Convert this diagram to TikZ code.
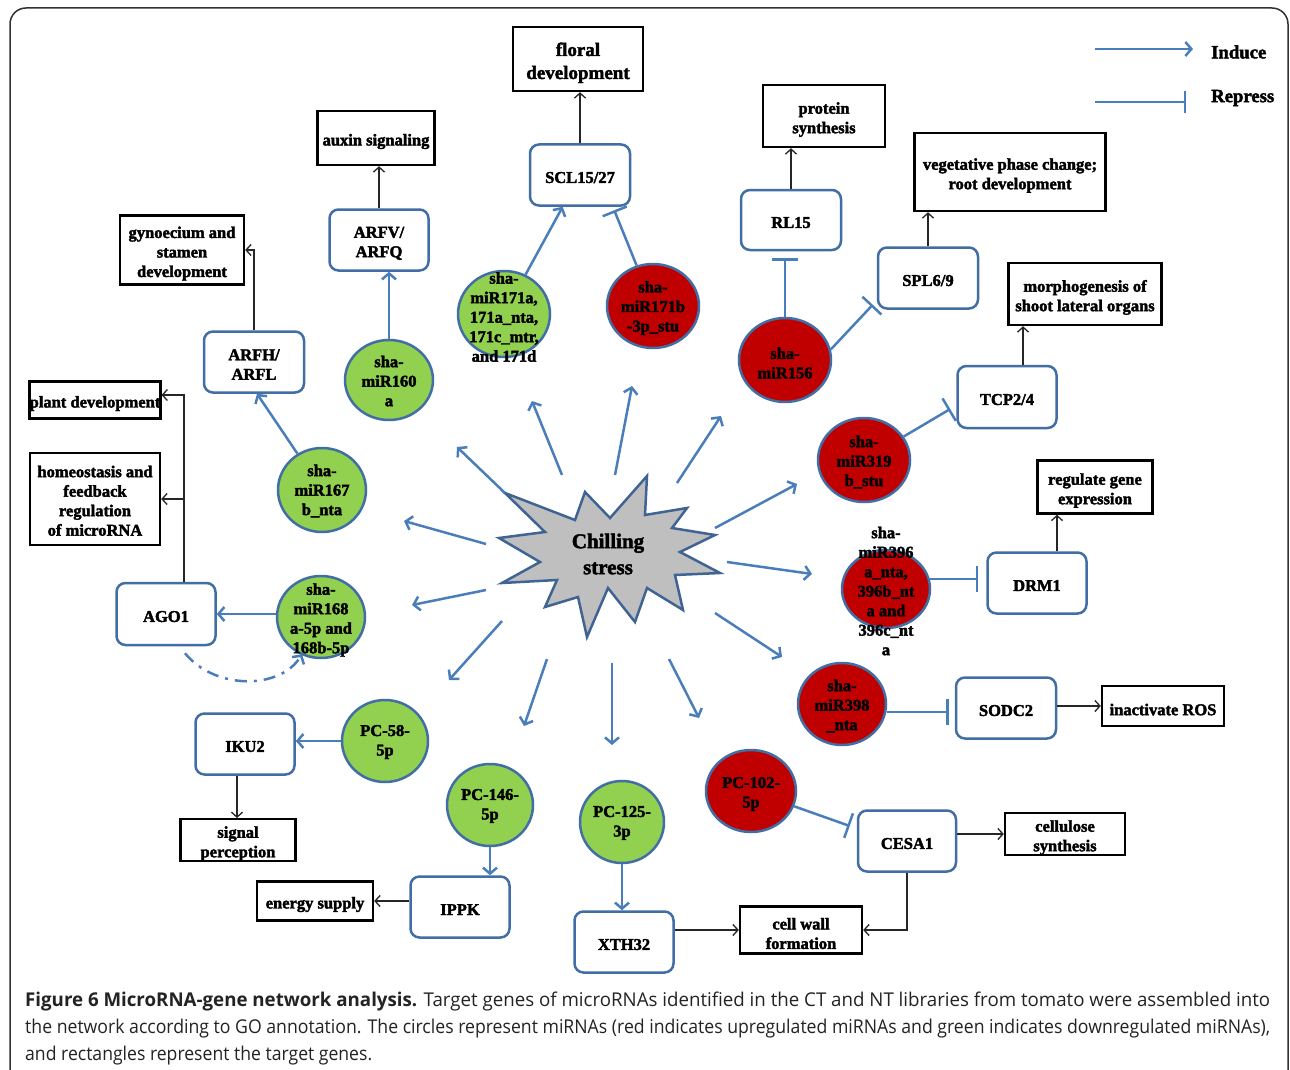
\documentclass[tikz,border=0pt]{standalone}
\usepackage{fontspec}
\usepackage{graphicx}
\setmainfont{Liberation Serif}[BoldFeatures={FakeBold=2.2}]
\newfontfamily\capfont{Open Sans}
\usetikzlibrary{arrows.meta,shapes.geometric,calc}
\definecolor{lnblue}{RGB}{74,126,187}
\definecolor{bdblue}{RGB}{65,110,165}
\definecolor{mgreen}{RGB}{146,208,80}
\definecolor{mred}{RGB}{192,0,0}
\definecolor{stargray}{RGB}{191,191,191}
\definecolor{starbd}{RGB}{63,100,148}
\definecolor{capgray}{RGB}{35,35,35}
\definecolor{framegray}{RGB}{50,50,50}
\newcommand\bx{\fontsize{16.5}{19.5}\selectfont\bfseries}
\newcommand\tp{\rule{0pt}{18.5pt}}
\newcommand\tg{\rule{0pt}{16pt}}
\begin{document}
\begin{tikzpicture}[x=1pt,y=-1pt,
  proc/.style={draw=black, line width=2.4pt, fill=white, inner sep=0pt, align=center, font=\bx},
  gene/.style={draw=bdblue, line width=2.5pt, rounded corners=9pt, fill=white, minimum width=99pt, minimum height=61pt, inner sep=0pt, align=center, font=\bx},
  mir/.style={ellipse, draw=bdblue, line width=2.5pt, inner sep=0pt},
  mtxt/.style={inner sep=0pt, align=center, font=\bx},
  ind/.style={draw=lnblue, line width=2.5pt, -{Straight Barb[length=6pt,width=14pt]}},
  rep/.style={draw=lnblue, line width=2.5pt, -{Bar[width=26pt]}},
  blk/.style={draw=black!85, line width=1.3pt, -{Straight Barb[length=5pt,width=11pt]}},
  lgtxt/.style={inner sep=0pt, font=\fontsize{18.7}{22}\selectfont\bfseries}
]
\useasboundingbox (0,0) rectangle (1290,1070);
\fill[white] (0,0) rectangle (1290,1070);
% frame
\draw[framegray, line width=1.5pt, rounded corners=16pt] (10,1110) -- (10,8) -- (1288,8) -- (1288,1110);

% legend
\coordinate (lgi1) at (1095,49); \coordinate (lgi2) at (1193,49);
\draw[ind] (lgi1) -- (lgi2);
\node[lgtxt, anchor=west] (lgind) at (1211,52) {Induce};
\coordinate (lgr1) at (1095,102); \coordinate (lgr2) at (1186,102);
\draw[rep, -{Bar[width=22pt]}] (lgr1) -- (lgr2);
\node[lgtxt, anchor=west] (lgrep) at (1211,98) {Repress};

% process boxes
\node[proc, minimum width=130pt, minimum height=64pt, font=\fontsize{19}{23}\selectfont\bfseries] (fl) at (578,59) {\rule{0pt}{21pt}floral\\development};
\node[proc, minimum width=117pt, minimum height=54pt] (aux) at (376,138) {\tp auxin signaling};
\node[proc, minimum width=124pt, minimum height=69pt] (gyn) at (182,250) {\tp gynoecium and\\stamen\\development};
\node[proc, minimum width=122pt, minimum height=62pt] (prot) at (824,116) {\tp protein\\synthesis};
\node[proc, minimum width=191pt, minimum height=78pt] (veg) at (1010,172) {\tp vegetative phase change;\\root development};
\node[proc, minimum width=153pt, minimum height=62pt] (morph) at (1085,294) {\tp morphogenesis of\\shoot lateral organs};
\node[proc, minimum width=130pt, minimum height=37pt] (plant) at (95,400) {\tp plant development};
\node[proc, minimum width=130pt, minimum height=92pt] (homeo) at (95,499) {\rule{0pt}{15pt}homeostasis and\\feedback\\regulation\\of microRNA};
\node[proc, minimum width=115pt, minimum height=53pt] (reg) at (1095,487) {\tp regulate gene\\expression};
\node[proc, minimum width=122pt, minimum height=40pt] (ros) at (1163,706) {\tp inactivate ROS};
\node[proc, minimum width=115pt, minimum height=37pt] (sig) at (238,840) {\tp signal\\perception};
\node[proc, minimum width=116pt, minimum height=39pt] (energy) at (315,901) {\tp energy supply};
\node[proc, minimum width=120pt, minimum height=40pt] (cell) at (1065,834) {\tp cellulose\\synthesis};
\node[proc, minimum width=122pt, minimum height=47pt] (wall) at (801,930) {\tp cell wall\\formation};

% gene boxes
\node[gene, minimum width=100pt] (scl) at (580,175) {\tg SCL15/27};
\node[gene] (arfv) at (379,240) {\rule{0pt}{17.5pt}ARFV/\\ARFQ};
\node[gene, minimum width=100pt] (arfh) at (254,362) {\tg ARFH/\\ARFL};
\node[gene, minimum width=100pt, minimum height=60pt] (rl) at (791,220) {\tg RL15};
\node[gene, minimum width=100pt] (spl) at (928,278) {\tg SPL6/9};
\node[gene, minimum height=62pt] (tcp) at (1007,397) {\tg TCP2/4};
\node[gene, minimum height=62pt] (ago) at (166,614) {\tg AGO1};
\node[gene] (drm) at (1037,583) {\tg DRM1};
\node[gene, minimum width=100pt] (sodc) at (1006,708) {\tg SODC2};
\node[gene] (iku) at (245,744) {\tg IKU2};
\node[gene] (ippk) at (460,907) {\tg IPPK};
\node[gene] (xth) at (624,942) {\tg XTH32};
\node[gene, minimum width=98pt] (cesa) at (907,841) {\tg CESA1};

% miRNA circles
\node[mir, fill=mgreen, minimum width=92pt, minimum height=86pt] (c171) at (504,314) {};
\node[mir, fill=mred, minimum width=92pt, minimum height=84pt] (c171b) at (653,306) {};
\node[mir, fill=mgreen, minimum width=88pt, minimum height=80pt] (c160) at (389,380) {};
\node[mir, fill=mred, minimum width=92pt, minimum height=84pt] (c156) at (785,360) {};
\node[mir, fill=mgreen, minimum width=88pt, minimum height=84pt] (c167) at (322,490) {};
\node[mir, fill=mgreen, minimum width=88pt, minimum height=82pt] (c168) at (321,617) {};
\node[mir, fill=mred, minimum width=92pt, minimum height=84pt] (c319) at (864,460) {};
\node[mir, fill=mred, minimum width=88pt, minimum height=78pt] (c396) at (886,589) {};
\node[mir, fill=mred, minimum width=88pt, minimum height=82pt] (c398) at (842,704) {};
\node[mir, fill=mgreen, minimum width=86pt, minimum height=82pt] (c58) at (385,741) {};
\node[mir, fill=mgreen, minimum width=86pt, minimum height=82pt] (c146) at (490,805) {};
\node[mir, fill=mgreen, minimum width=84pt, minimum height=82pt] (c125) at (622,822) {};
\node[mir, fill=mred, minimum width=90pt, minimum height=82pt] (c102) at (751,791) {};

\node[mtxt] (t171) at (504,317) {sha-\\miR171a,\\171a\_nta,\\171c\_mtr,\\and 171d};
\node[mtxt] (t171b) at (653,308) {sha-\\miR171b\\-3p\_stu};
\node[mtxt] (t160) at (389,381) {sha-\\miR160\\a};
\node[mtxt] (t156) at (785,363) {sha-\\miR156};
\node[mtxt] (t167) at (322,491) {sha-\\miR167\\b\_nta};
\node[mtxt] (t168) at (321,620) {sha-\\miR168\\a-5p and\\168b-5p};
\node[mtxt] (t319) at (864,462) {sha-\\miR319\\b\_stu};
\node[mtxt] (t396) at (886,591) {sha-\\miR396\\a\_nta,\\396b\_nt\\a and\\396c\_nt\\a};
\node[mtxt] (t398) at (842,706) {sha-\\miR398\\\_nta};
\node[mtxt] (t58) at (385,742) {PC-58-\\5p};
\node[mtxt] (t146) at (490,806) {PC-146-\\5p};
\node[mtxt] (t125) at (622,823) {PC-125-\\3p};
\node[mtxt] (t102) at (751,794) {PC-102-\\5p};

% chilling stress star
\draw[fill=stargray, draw=starbd, line width=2.5pt, line join=miter]
 (499,538) -- (545,532) -- (505,493) -- (575,520) -- (585,492) -- (610,518) -- (647,476) -- (645,515) -- (687,508) -- (672,528) -- (715,535) -- (680,552) -- (720,573) -- (675,575) -- (683,610) -- (647,588) -- (635,622) -- (608,588) -- (587,637) -- (578,597) -- (545,607) -- (557,580) -- (502,583) -- (540,562) -- cycle;
\node[inner sep=0pt, align=center, font=\fontsize{21}{26}\selectfont\bfseries] (chill) at (608,554) {Chilling\\stress};

% arrows radiating from the star
\foreach \i/\sx/\sy/\ex/\ey in {1/562/475/532/401, 2/615/475/632/386, 3/677/483/721/416, 4/715/528/797/484, 5/727/562/812/574, 6/715/613/782/657, 7/505/493/457/447, 8/486/544/404/521, 9/486/590/412/605, 10/502/621/449/680, 11/547/659/524/726, 12/612/663/612/745, 13/669/659/699/718} {
  \coordinate (s\i) at (\sx,\sy);
  \coordinate (e\i) at (\ex,\ey);
  \draw[ind] (s\i) -- (e\i);
}

% miRNA -> target connectors
\draw[ind] (c171) -- (scl);
\draw[rep] (c171b) -- ($(scl.south east)+(-17,3.5)$);
\draw[ind] (c160) -- (c160 |- arfv.south);
\draw[ind] (c167) -- ($(arfh.south)+(3,0)$);
\draw[ind] (c168.west |- ago.east) -- (ago.east);
\draw[ind, dash pattern=on 12pt off 7pt on 3pt off 7pt] ($(ago.south)+(19,7)$) .. controls (215,690) and (280,690) .. ($(c168.south)+(-19,-5)$);
\draw[rep] (c156) -- ($(c156 |- rl.south)+(0,7)$);
\draw[rep] (c156.13) -- ($(spl.south west)+(-4,-5)$);
\draw[rep] (c319) -- ($(tcp.west)+(-6,12)$);
\draw[rep] ($(c396.east)+(-1.5,-10)$) -- ($(drm.west)+(-8,-4)$);
\draw[rep] ($(c398.east)+(0,8)$) -- ($(sodc.west)+(-6,4)$);
\draw[ind] (c58) -- (c58 -| iku.east);
\draw[ind] (c146.south) -- (c146.south |- ippk.north);
\draw[ind] (c125.south) -- (c125.south |- xth.north);
\draw[rep] (c102) -- ($(cesa.west)+(-7,-15)$);

% target -> function connectors
\draw[blk] (scl.north) -- (scl.north |- fl.south);
\draw[blk] (arfv.north) -- (arfv.north |- aux.south);
\draw[blk] (arfh.north) |- (gyn.east);
\coordinate (agoj) at ($(ago.north)+(18,0)$);
\draw[blk] (agoj) |- ($(plant.east)+(0,-5)$);
\draw[blk] (agoj) |- (homeo.east);
\draw[blk] (rl.north) -- (rl.north |- prot.south);
\draw[blk] (spl.north) -- (spl.north |- veg.south);
\draw[blk] ($(tcp.north)+(16,0)$) -- ($(morph.south)+(-62,0)$);
\draw[blk] ($(drm.north)+(20,0)$) -- ($(reg.south)+(-38,0)$);
\draw[blk] (sodc.east |- ros.west) -- (ros.west);
\draw[blk] ($(iku.south)+(-8,0)$) -- ($(sig.north)+(-1,0)$);
\draw[blk] ($(ippk.west)+(0,-6)$) -- (energy.east);
\draw[blk] (xth.east |- wall.west) -- (wall.west);
\draw[blk] (cesa.east |- cell.west) -- (cell.west);
\draw[blk] (cesa.south) |- (wall.east);

% caption
\node[anchor=base west, inner sep=0pt, text=capgray] (cap1) at (25,1006) {\resizebox{1245pt}{\height}{\capfont\fontsize{19}{22}\selectfont\textbf{Figure 6 MicroRNA-gene network analysis.} Target genes of microRNAs identified in the CT and NT libraries from tomato were assembled into}};
\node[anchor=base west, inner sep=0pt, text=capgray] (cap2) at (25,1033) {\resizebox{1245pt}{\height}{\capfont\fontsize{19}{22}\selectfont the network according to GO annotation. The circles represent miRNAs (red indicates upregulated miRNAs and green indicates downregulated miRNAs),}};
\node[anchor=base west, inner sep=0pt, text=capgray] (cap3) at (25,1060) {\resizebox{347pt}{\height}{\capfont\fontsize{19}{22}\selectfont and rectangles represent the target genes.}};
\end{tikzpicture}
\end{document}
